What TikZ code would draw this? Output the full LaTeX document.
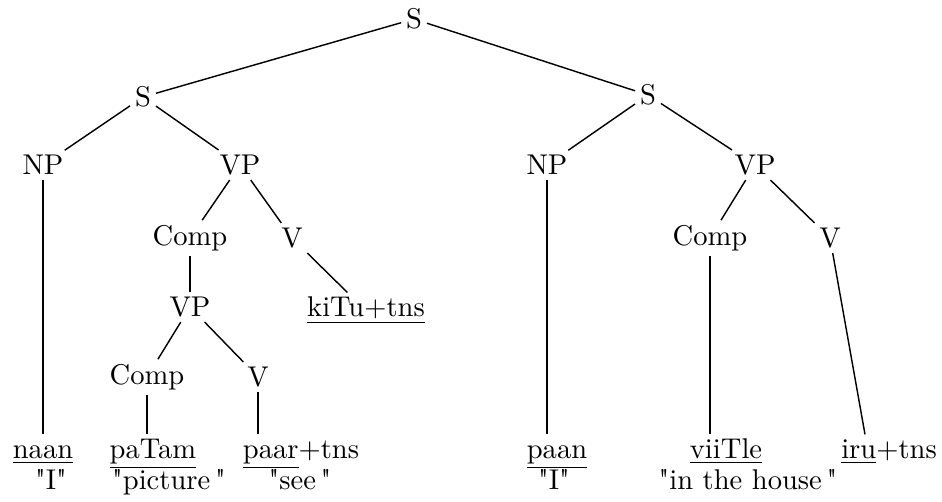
\documentclass[tikz,border=0pt]{standalone}
\usepackage{fontspec}
\usepackage{tikz}
\usetikzlibrary{positioning}

\begin{document}
\begin{tikzpicture}[x=0.35pt, y=-0.35pt, line width=0.5pt,
        every node/.append style={inner sep=1.5pt}]
      \tikzstyle{cat} = [font=\rmfamily]
      \tikzstyle{word} = [anchor=base, text height=6.5pt]
      \tikzstyle{gloss} = [anchor=base]
      \useasboundingbox (0,0) rectangle (942,501);
      \node (S) [cat] at (414,19) {S};
      \node (S1) [cat] at (143,97) {S};
      \node (S2) [cat] at (648,95) {S};
      \node (NP1) [cat] at (43,165) {NP};
      \node (VP1) [cat] at (240,165) {VP};
      \node (NP2) [cat] at (547,165) {NP};
      \node (VP2) [cat] at (755,165) {VP};
      \node (Comp1) [cat] at (190,238) {Comp};
      \node (V1) [cat] at (292,238) {V};
      \node (VP3) [cat] at (190,307) {VP};
      \node (Comp2) [cat] at (147,377) {Comp};
      \node (V2) [cat] at (258,377) {V};
      \node (Comp3) [cat] at (710,238) {Comp};
      \node (V3) [cat] at (830,238) {V};
      \node (kiTu) [word] at (366,316) {\underline{kiTu+tns}};
      \node (naan) [word] at (43,458) {\underline{naan}};
      \node (paTam) [word] at (153,458) {\underline{paTam}};
      \node (paar) [word] at (301,458) {\underline{paar}+tns};
      \node (paan) [word] at (557,458) {\underline{paan}};
      \node (viiTle) [word] at (726,458) {\underline{viiTle}};
      \node (iru) [word] at (889,458) {\underline{iru}+tns};
      \node (naanGl) [gloss] at (51,489) {\textquotedbl I\textquotedbl};
      \node (paTamGl) [gloss] at (169,489) {\textquotedbl picture\,\textquotedbl};
      \node (paarGl) [gloss] at (300,489) {\textquotedbl see\,\textquotedbl};
      \node (paanGl) [gloss] at (554,489) {\textquotedbl I\textquotedbl};
      \node (viiTleGl) [gloss] at (748,489) {\textquotedbl in the house\,\textquotedbl};
      \draw (S) -- (S1) (S) -- (S2);
      \draw (S1) -- (NP1) (S1) -- (VP1);
      \draw (S2) -- (NP2) (S2) -- (VP2);
      \draw (VP1) -- (Comp1) (VP1) -- (V1);
      \draw (Comp1) -- (VP3);
      \draw (V1) -- (kiTu);
      \draw (VP3) -- (Comp2) (VP3) -- (V2);
      \draw (NP1) -- (naan);
      \draw (Comp2) -- (Comp2 |- paTam.north);
      \draw (V2) -- (V2 |- paar.north);
      \draw (NP2) -- (NP2 |- paan.north);
      \draw (VP2) -- (Comp3) (VP2) -- (V3);
      \draw (Comp3) -- (Comp3 |- viiTle.north);
      \draw (V3) -- ([xshift=-8.4pt]iru.north);
    \end{tikzpicture}
\end{document}
